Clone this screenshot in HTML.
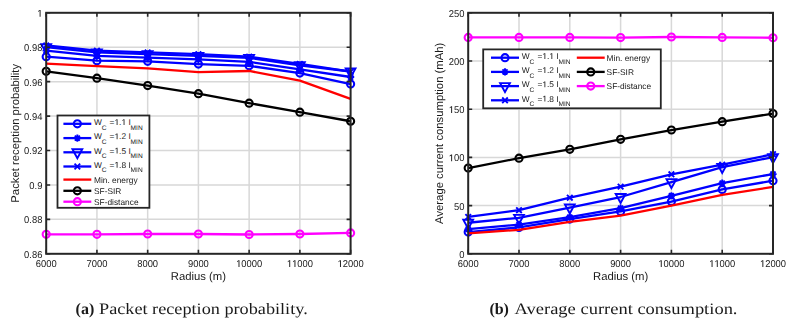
<!DOCTYPE html>
<html><head><meta charset="utf-8"><title>Figure</title>
<style>
html,body{margin:0;padding:0;background:#fff;}
body{width:794px;height:324px;overflow:hidden;position:relative;}
svg{position:absolute;left:0;top:0;filter:blur(0.35px);}
svg text{font-family:"Liberation Sans",sans-serif;fill:#1a1a1a;text-rendering:geometricPrecision;}
svg text.cap{font-family:"Liberation Serif",serif;fill:#1a1a1a;}
</style></head>
<body>
<svg width="794" height="324" viewBox="0 0 794 324">
<rect x="46.2" y="12.8" width="304.4" height="241" fill="#fff"/>
<path d="M96.93 12.8V253.8M147.67 12.8V253.8M198.4 12.8V253.8M249.13 12.8V253.8M299.87 12.8V253.8M46.2 219.37H350.6M46.2 184.94H350.6M46.2 150.51H350.6M46.2 116.09H350.6M46.2 81.66H350.6M46.2 47.23H350.6" stroke="#d8d8d8" stroke-width="1.5" fill="none"/>
<path d="M46.2 56.7L96.93 60.66L147.67 61.34L198.4 64.1L249.13 65.82L299.87 73.05L350.6 84.07" stroke="#0000ff" stroke-width="2.3" fill="none" stroke-linejoin="round"/>
<circle cx="46.2" cy="56.7" r="3.55" fill="none" stroke="#0000ff" stroke-width="2.1"/>
<circle cx="96.93" cy="60.66" r="3.55" fill="none" stroke="#0000ff" stroke-width="2.1"/>
<circle cx="147.67" cy="61.34" r="3.55" fill="none" stroke="#0000ff" stroke-width="2.1"/>
<circle cx="198.4" cy="64.1" r="3.55" fill="none" stroke="#0000ff" stroke-width="2.1"/>
<circle cx="249.13" cy="65.82" r="3.55" fill="none" stroke="#0000ff" stroke-width="2.1"/>
<circle cx="299.87" cy="73.05" r="3.55" fill="none" stroke="#0000ff" stroke-width="2.1"/>
<circle cx="350.6" cy="84.07" r="3.55" fill="none" stroke="#0000ff" stroke-width="2.1"/>
<path d="M46.2 50.67L96.93 55.84L147.67 57.56L198.4 59.28L249.13 61.86L299.87 69.44L350.6 77.01" stroke="#0000ff" stroke-width="2.3" fill="none" stroke-linejoin="round"/>
<path d="M42.6 50.67H49.8M46.2 47.07V54.27M43.65 48.13L48.75 53.22M43.65 53.22L48.75 48.13" stroke="#0000ff" stroke-width="1.9" fill="none"/>
<path d="M93.33 55.84H100.53M96.93 52.24V59.44M94.39 53.29L99.48 58.38M94.39 58.38L99.48 53.29" stroke="#0000ff" stroke-width="1.9" fill="none"/>
<path d="M144.07 57.56H151.27M147.67 53.96V61.16M145.12 55.01L150.21 60.1M145.12 60.1L150.21 55.01" stroke="#0000ff" stroke-width="1.9" fill="none"/>
<path d="M194.8 59.28H202M198.4 55.68V62.88M195.85 56.73L200.95 61.82M195.85 61.82L200.95 56.73" stroke="#0000ff" stroke-width="1.9" fill="none"/>
<path d="M245.53 61.86H252.73M249.13 58.26V65.46M246.59 59.32L251.68 64.41M246.59 64.41L251.68 59.32" stroke="#0000ff" stroke-width="1.9" fill="none"/>
<path d="M296.27 69.44H303.47M299.87 65.84V73.04M297.32 66.89L302.41 71.98M297.32 71.98L302.41 66.89" stroke="#0000ff" stroke-width="1.9" fill="none"/>
<path d="M347 77.01H354.2M350.6 73.41V80.61M348.05 74.46L353.15 79.55M348.05 79.55L353.15 74.46" stroke="#0000ff" stroke-width="1.9" fill="none"/>
<path d="M46.2 47.23L96.93 52.39L147.67 54.11L198.4 55.84L249.13 57.9L299.87 65.3L350.6 71.5" stroke="#0000ff" stroke-width="2.3" fill="none" stroke-linejoin="round"/>
<path d="M41.3 44.23L51.1 44.23L46.2 53.13Z" stroke="#0000ff" stroke-width="1.9" fill="none" stroke-linejoin="miter"/>
<path d="M92.03 49.39L101.83 49.39L96.93 58.29Z" stroke="#0000ff" stroke-width="1.9" fill="none" stroke-linejoin="miter"/>
<path d="M142.77 51.11L152.57 51.11L147.67 60.01Z" stroke="#0000ff" stroke-width="1.9" fill="none" stroke-linejoin="miter"/>
<path d="M193.5 52.84L203.3 52.84L198.4 61.74Z" stroke="#0000ff" stroke-width="1.9" fill="none" stroke-linejoin="miter"/>
<path d="M244.23 54.9L254.03 54.9L249.13 63.8Z" stroke="#0000ff" stroke-width="1.9" fill="none" stroke-linejoin="miter"/>
<path d="M294.97 62.3L304.77 62.3L299.87 71.2Z" stroke="#0000ff" stroke-width="1.9" fill="none" stroke-linejoin="miter"/>
<path d="M345.7 68.5L355.5 68.5L350.6 77.4Z" stroke="#0000ff" stroke-width="1.9" fill="none" stroke-linejoin="miter"/>
<path d="M46.2 45.51L96.93 50.67L147.67 52.39L198.4 54.11L249.13 56.7L299.87 63.93L350.6 71.67" stroke="#0000ff" stroke-width="2.3" fill="none" stroke-linejoin="round"/>
<path d="M43.4 42.71L49 48.31M43.4 48.31L49 42.71" stroke="#0000ff" stroke-width="1.9" fill="none"/>
<path d="M94.13 47.87L99.73 53.47M94.13 53.47L99.73 47.87" stroke="#0000ff" stroke-width="1.9" fill="none"/>
<path d="M144.87 49.59L150.47 55.19M144.87 55.19L150.47 49.59" stroke="#0000ff" stroke-width="1.9" fill="none"/>
<path d="M195.6 51.31L201.2 56.91M195.6 56.91L201.2 51.31" stroke="#0000ff" stroke-width="1.9" fill="none"/>
<path d="M246.33 53.9L251.93 59.5M246.33 59.5L251.93 53.9" stroke="#0000ff" stroke-width="1.9" fill="none"/>
<path d="M297.07 61.13L302.67 66.73M297.07 66.73L302.67 61.13" stroke="#0000ff" stroke-width="1.9" fill="none"/>
<path d="M347.8 68.87L353.4 74.47M347.8 74.47L353.4 68.87" stroke="#0000ff" stroke-width="1.9" fill="none"/>
<path d="M46.2 63.58L96.93 66.16L147.67 68.4L198.4 72.19L249.13 70.98L299.87 80.62L350.6 98.87" stroke="#ff0000" stroke-width="2.3" fill="none" stroke-linejoin="round"/>
<path d="M46.2 71.33L96.93 78.21L147.67 85.62L198.4 93.71L249.13 103.17L299.87 112.13L350.6 121.25" stroke="#000000" stroke-width="2.3" fill="none" stroke-linejoin="round"/>
<circle cx="46.2" cy="71.33" r="3.55" fill="none" stroke="#000000" stroke-width="2.1"/>
<circle cx="96.93" cy="78.21" r="3.55" fill="none" stroke="#000000" stroke-width="2.1"/>
<circle cx="147.67" cy="85.62" r="3.55" fill="none" stroke="#000000" stroke-width="2.1"/>
<circle cx="198.4" cy="93.71" r="3.55" fill="none" stroke="#000000" stroke-width="2.1"/>
<circle cx="249.13" cy="103.17" r="3.55" fill="none" stroke="#000000" stroke-width="2.1"/>
<circle cx="299.87" cy="112.13" r="3.55" fill="none" stroke="#000000" stroke-width="2.1"/>
<circle cx="350.6" cy="121.25" r="3.55" fill="none" stroke="#000000" stroke-width="2.1"/>
<path d="M46.2 234.35L96.93 234.35L147.67 234L198.4 234L249.13 234.52L299.87 234L350.6 232.97" stroke="#ff00ff" stroke-width="2.3" fill="none" stroke-linejoin="round"/>
<circle cx="46.2" cy="234.35" r="3.55" fill="none" stroke="#ff00ff" stroke-width="2.1"/>
<circle cx="96.93" cy="234.35" r="3.55" fill="none" stroke="#ff00ff" stroke-width="2.1"/>
<circle cx="147.67" cy="234" r="3.55" fill="none" stroke="#ff00ff" stroke-width="2.1"/>
<circle cx="198.4" cy="234" r="3.55" fill="none" stroke="#ff00ff" stroke-width="2.1"/>
<circle cx="249.13" cy="234.52" r="3.55" fill="none" stroke="#ff00ff" stroke-width="2.1"/>
<circle cx="299.87" cy="234" r="3.55" fill="none" stroke="#ff00ff" stroke-width="2.1"/>
<circle cx="350.6" cy="232.97" r="3.55" fill="none" stroke="#ff00ff" stroke-width="2.1"/>
<path d="M46.2 253.8v-4M46.2 12.8v4M96.93 253.8v-4M96.93 12.8v4M147.67 253.8v-4M147.67 12.8v4M198.4 253.8v-4M198.4 12.8v4M249.13 253.8v-4M249.13 12.8v4M299.87 253.8v-4M299.87 12.8v4M350.6 253.8v-4M350.6 12.8v4M46.2 253.8h4M350.6 253.8h-4M46.2 219.37h4M350.6 219.37h-4M46.2 184.94h4M350.6 184.94h-4M46.2 150.51h4M350.6 150.51h-4M46.2 116.09h4M350.6 116.09h-4M46.2 81.66h4M350.6 81.66h-4M46.2 47.23h4M350.6 47.23h-4M46.2 12.8h4M350.6 12.8h-4" stroke="#262626" stroke-width="1.6" fill="none"/>
<rect x="46.2" y="12.8" width="304.4" height="241" fill="none" stroke="#262626" stroke-width="2.0"/>
<g transform="translate(46.2 267) scale(0.95 1)"><text x="-11.01" y="0" font-size="9.9">6000</text></g>
<g transform="translate(96.93 267) scale(0.95 1)"><text x="-11.01" y="0" font-size="9.9">7000</text></g>
<g transform="translate(147.67 267) scale(0.95 1)"><text x="-11.01" y="0" font-size="9.9">8000</text></g>
<g transform="translate(198.4 267) scale(0.95 1)"><text x="-11.01" y="0" font-size="9.9">9000</text></g>
<g transform="translate(249.13 267) scale(0.95 1)"><path d="M535 0L535 1222L217 995L217 1185L555 1409L741 1409L741 0Z" fill="#1a1a1a" transform="matrix(0.00483 0 0 -0.00483 -13.76 0)"/><text x="-8.26" y="0" font-size="9.9">0000</text></g>
<g transform="translate(299.87 267) scale(0.95 1)"><path d="M535 0L535 1222L217 995L217 1185L555 1409L741 1409L741 0Z" fill="#1a1a1a" transform="matrix(0.00483 0 0 -0.00483 -13.76 0)"/><path d="M535 0L535 1222L217 995L217 1185L555 1409L741 1409L741 0Z" fill="#1a1a1a" transform="matrix(0.00483 0 0 -0.00483 -8.26 0)"/><text x="-2.75" y="0" font-size="9.9">000</text></g>
<g transform="translate(350.6 267) scale(0.95 1)"><path d="M535 0L535 1222L217 995L217 1185L555 1409L741 1409L741 0Z" fill="#1a1a1a" transform="matrix(0.00483 0 0 -0.00483 -13.76 0)"/><text x="-8.26" y="0" font-size="9.9">2000</text></g>
<g transform="translate(42.4 257.7) scale(0.95 1)"><text x="-19.27" y="0" font-size="9.9">0.86</text></g>
<g transform="translate(42.4 223.27) scale(0.95 1)"><text x="-19.27" y="0" font-size="9.9">0.88</text></g>
<g transform="translate(42.4 188.84) scale(0.95 1)"><text x="-13.76" y="0" font-size="9.9">0.9</text></g>
<g transform="translate(42.4 154.41) scale(0.95 1)"><text x="-19.27" y="0" font-size="9.9">0.92</text></g>
<g transform="translate(42.4 119.99) scale(0.95 1)"><text x="-19.27" y="0" font-size="9.9">0.94</text></g>
<g transform="translate(42.4 85.56) scale(0.95 1)"><text x="-19.27" y="0" font-size="9.9">0.96</text></g>
<g transform="translate(42.4 51.13) scale(0.95 1)"><text x="-19.27" y="0" font-size="9.9">0.98</text></g>
<g transform="translate(42.4 16.7) scale(0.95 1)"><path d="M535 0L535 1222L217 995L217 1185L555 1409L741 1409L741 0Z" fill="#1a1a1a" transform="matrix(0.00483 0 0 -0.00483 -5.51 0)"/></g>
<text x="198.4" y="279.8" text-anchor="middle" font-size="11.3">Radius (m)</text>
<text transform="translate(18.8 133.3) rotate(-90)" text-anchor="middle" font-size="11.3">Packet reception probability</text>
<rect x="468.2" y="12.8" width="304.8" height="241" fill="#fff"/>
<path d="M519 12.8V253.8M569.8 12.8V253.8M620.6 12.8V253.8M671.4 12.8V253.8M722.2 12.8V253.8M468.2 205.6H773M468.2 157.4H773M468.2 109.2H773M468.2 61H773" stroke="#d8d8d8" stroke-width="1.5" fill="none"/>
<path d="M468.2 232.11L519 227.39L569.8 219.1L620.6 211.38L671.4 201.55L722.2 189.4L773 180.73" stroke="#0000ff" stroke-width="2.3" fill="none" stroke-linejoin="round"/>
<circle cx="468.2" cy="232.11" r="3.55" fill="none" stroke="#0000ff" stroke-width="2.1"/>
<circle cx="519" cy="227.39" r="3.55" fill="none" stroke="#0000ff" stroke-width="2.1"/>
<circle cx="569.8" cy="219.1" r="3.55" fill="none" stroke="#0000ff" stroke-width="2.1"/>
<circle cx="620.6" cy="211.38" r="3.55" fill="none" stroke="#0000ff" stroke-width="2.1"/>
<circle cx="671.4" cy="201.55" r="3.55" fill="none" stroke="#0000ff" stroke-width="2.1"/>
<circle cx="722.2" cy="189.4" r="3.55" fill="none" stroke="#0000ff" stroke-width="2.1"/>
<circle cx="773" cy="180.73" r="3.55" fill="none" stroke="#0000ff" stroke-width="2.1"/>
<path d="M468.2 229.22L519 224.59L569.8 217.17L620.6 208.11L671.4 195.77L722.2 183.14L773 174.08" stroke="#0000ff" stroke-width="2.3" fill="none" stroke-linejoin="round"/>
<path d="M464.6 229.22H471.8M468.2 225.62V232.82M465.65 226.67L470.75 231.76M465.65 231.76L470.75 226.67" stroke="#0000ff" stroke-width="1.9" fill="none"/>
<path d="M515.4 224.59H522.6M519 220.99V228.19M516.45 222.05L521.55 227.14M516.45 227.14L521.55 222.05" stroke="#0000ff" stroke-width="1.9" fill="none"/>
<path d="M566.2 217.17H573.4M569.8 213.57V220.77M567.25 214.62L572.35 219.71M567.25 219.71L572.35 214.62" stroke="#0000ff" stroke-width="1.9" fill="none"/>
<path d="M617 208.11H624.2M620.6 204.51V211.71M618.05 205.56L623.15 210.65M618.05 210.65L623.15 205.56" stroke="#0000ff" stroke-width="1.9" fill="none"/>
<path d="M667.8 195.77H675M671.4 192.17V199.37M668.85 193.22L673.95 198.31M668.85 198.31L673.95 193.22" stroke="#0000ff" stroke-width="1.9" fill="none"/>
<path d="M718.6 183.14H725.8M722.2 179.54V186.74M719.65 180.59L724.75 185.68M719.65 185.68L724.75 180.59" stroke="#0000ff" stroke-width="1.9" fill="none"/>
<path d="M769.4 174.08H776.6M773 170.48V177.68M770.45 171.53L775.55 176.62M770.45 176.62L775.55 171.53" stroke="#0000ff" stroke-width="1.9" fill="none"/>
<path d="M468.2 222.76L519 217.84L569.8 207.53L620.6 197.02L671.4 182.17L722.2 167.04L773 157.21" stroke="#0000ff" stroke-width="2.3" fill="none" stroke-linejoin="round"/>
<path d="M463.3 219.76L473.1 219.76L468.2 228.66Z" stroke="#0000ff" stroke-width="1.9" fill="none" stroke-linejoin="miter"/>
<path d="M514.1 214.84L523.9 214.84L519 223.74Z" stroke="#0000ff" stroke-width="1.9" fill="none" stroke-linejoin="miter"/>
<path d="M564.9 204.53L574.7 204.53L569.8 213.43Z" stroke="#0000ff" stroke-width="1.9" fill="none" stroke-linejoin="miter"/>
<path d="M615.7 194.02L625.5 194.02L620.6 202.92Z" stroke="#0000ff" stroke-width="1.9" fill="none" stroke-linejoin="miter"/>
<path d="M666.5 179.17L676.3 179.17L671.4 188.07Z" stroke="#0000ff" stroke-width="1.9" fill="none" stroke-linejoin="miter"/>
<path d="M717.3 164.04L727.1 164.04L722.2 172.94Z" stroke="#0000ff" stroke-width="1.9" fill="none" stroke-linejoin="miter"/>
<path d="M768.1 154.21L777.9 154.21L773 163.11Z" stroke="#0000ff" stroke-width="1.9" fill="none" stroke-linejoin="miter"/>
<path d="M468.2 216.98L519 210.23L569.8 197.7L620.6 186.61L671.4 174.27L722.2 164.63L773 154.22" stroke="#0000ff" stroke-width="2.3" fill="none" stroke-linejoin="round"/>
<path d="M465.4 214.18L471 219.78M465.4 219.78L471 214.18" stroke="#0000ff" stroke-width="1.9" fill="none"/>
<path d="M516.2 207.43L521.8 213.03M516.2 213.03L521.8 207.43" stroke="#0000ff" stroke-width="1.9" fill="none"/>
<path d="M567 194.9L572.6 200.5M567 200.5L572.6 194.9" stroke="#0000ff" stroke-width="1.9" fill="none"/>
<path d="M617.8 183.81L623.4 189.41M617.8 189.41L623.4 183.81" stroke="#0000ff" stroke-width="1.9" fill="none"/>
<path d="M668.6 171.47L674.2 177.07M668.6 177.07L674.2 171.47" stroke="#0000ff" stroke-width="1.9" fill="none"/>
<path d="M719.4 161.83L725 167.43M719.4 167.43L725 161.83" stroke="#0000ff" stroke-width="1.9" fill="none"/>
<path d="M770.2 151.42L775.8 157.02M770.2 157.02L775.8 151.42" stroke="#0000ff" stroke-width="1.9" fill="none"/>
<path d="M468.2 233.46L519 229.8L569.8 221.89L620.6 215.53L671.4 205.7L722.2 194.8L773 186.9" stroke="#ff0000" stroke-width="2.3" fill="none" stroke-linejoin="round"/>
<path d="M468.2 168.1L519 158.17L569.8 149.3L620.6 139.28L671.4 130.02L722.2 121.64L773 113.54" stroke="#000000" stroke-width="2.3" fill="none" stroke-linejoin="round"/>
<circle cx="468.2" cy="168.1" r="3.55" fill="none" stroke="#000000" stroke-width="2.1"/>
<circle cx="519" cy="158.17" r="3.55" fill="none" stroke="#000000" stroke-width="2.1"/>
<circle cx="569.8" cy="149.3" r="3.55" fill="none" stroke="#000000" stroke-width="2.1"/>
<circle cx="620.6" cy="139.28" r="3.55" fill="none" stroke="#000000" stroke-width="2.1"/>
<circle cx="671.4" cy="130.02" r="3.55" fill="none" stroke="#000000" stroke-width="2.1"/>
<circle cx="722.2" cy="121.64" r="3.55" fill="none" stroke="#000000" stroke-width="2.1"/>
<circle cx="773" cy="113.54" r="3.55" fill="none" stroke="#000000" stroke-width="2.1"/>
<path d="M468.2 37.38L519 37.38L569.8 37.38L620.6 37.57L671.4 37L722.2 37.38L773 37.77" stroke="#ff00ff" stroke-width="2.3" fill="none" stroke-linejoin="round"/>
<circle cx="468.2" cy="37.38" r="3.55" fill="none" stroke="#ff00ff" stroke-width="2.1"/>
<circle cx="519" cy="37.38" r="3.55" fill="none" stroke="#ff00ff" stroke-width="2.1"/>
<circle cx="569.8" cy="37.38" r="3.55" fill="none" stroke="#ff00ff" stroke-width="2.1"/>
<circle cx="620.6" cy="37.57" r="3.55" fill="none" stroke="#ff00ff" stroke-width="2.1"/>
<circle cx="671.4" cy="37" r="3.55" fill="none" stroke="#ff00ff" stroke-width="2.1"/>
<circle cx="722.2" cy="37.38" r="3.55" fill="none" stroke="#ff00ff" stroke-width="2.1"/>
<circle cx="773" cy="37.77" r="3.55" fill="none" stroke="#ff00ff" stroke-width="2.1"/>
<path d="M468.2 253.8v-4M468.2 12.8v4M519 253.8v-4M519 12.8v4M569.8 253.8v-4M569.8 12.8v4M620.6 253.8v-4M620.6 12.8v4M671.4 253.8v-4M671.4 12.8v4M722.2 253.8v-4M722.2 12.8v4M773 253.8v-4M773 12.8v4M468.2 253.8h4M773 253.8h-4M468.2 205.6h4M773 205.6h-4M468.2 157.4h4M773 157.4h-4M468.2 109.2h4M773 109.2h-4M468.2 61h4M773 61h-4M468.2 12.8h4M773 12.8h-4" stroke="#262626" stroke-width="1.6" fill="none"/>
<rect x="468.2" y="12.8" width="304.8" height="241" fill="none" stroke="#262626" stroke-width="2.0"/>
<g transform="translate(468.2 267) scale(0.95 1)"><text x="-11.01" y="0" font-size="9.9">6000</text></g>
<g transform="translate(519 267) scale(0.95 1)"><text x="-11.01" y="0" font-size="9.9">7000</text></g>
<g transform="translate(569.8 267) scale(0.95 1)"><text x="-11.01" y="0" font-size="9.9">8000</text></g>
<g transform="translate(620.6 267) scale(0.95 1)"><text x="-11.01" y="0" font-size="9.9">9000</text></g>
<g transform="translate(671.4 267) scale(0.95 1)"><path d="M535 0L535 1222L217 995L217 1185L555 1409L741 1409L741 0Z" fill="#1a1a1a" transform="matrix(0.00483 0 0 -0.00483 -13.76 0)"/><text x="-8.26" y="0" font-size="9.9">0000</text></g>
<g transform="translate(722.2 267) scale(0.95 1)"><path d="M535 0L535 1222L217 995L217 1185L555 1409L741 1409L741 0Z" fill="#1a1a1a" transform="matrix(0.00483 0 0 -0.00483 -13.76 0)"/><path d="M535 0L535 1222L217 995L217 1185L555 1409L741 1409L741 0Z" fill="#1a1a1a" transform="matrix(0.00483 0 0 -0.00483 -8.26 0)"/><text x="-2.75" y="0" font-size="9.9">000</text></g>
<g transform="translate(773 267) scale(0.95 1)"><path d="M535 0L535 1222L217 995L217 1185L555 1409L741 1409L741 0Z" fill="#1a1a1a" transform="matrix(0.00483 0 0 -0.00483 -13.76 0)"/><text x="-8.26" y="0" font-size="9.9">2000</text></g>
<g transform="translate(464.4 257.7) scale(0.95 1)"><text x="-5.51" y="0" font-size="9.9">0</text></g>
<g transform="translate(464.4 209.5) scale(0.95 1)"><text x="-11.01" y="0" font-size="9.9">50</text></g>
<g transform="translate(464.4 161.3) scale(0.95 1)"><path d="M535 0L535 1222L217 995L217 1185L555 1409L741 1409L741 0Z" fill="#1a1a1a" transform="matrix(0.00483 0 0 -0.00483 -16.52 0)"/><text x="-11.01" y="0" font-size="9.9">00</text></g>
<g transform="translate(464.4 113.1) scale(0.95 1)"><path d="M535 0L535 1222L217 995L217 1185L555 1409L741 1409L741 0Z" fill="#1a1a1a" transform="matrix(0.00483 0 0 -0.00483 -16.52 0)"/><text x="-11.01" y="0" font-size="9.9">50</text></g>
<g transform="translate(464.4 64.9) scale(0.95 1)"><text x="-16.52" y="0" font-size="9.9">200</text></g>
<g transform="translate(464.4 16.7) scale(0.95 1)"><text x="-16.52" y="0" font-size="9.9">250</text></g>
<text x="620.6" y="279.8" text-anchor="middle" font-size="11.3">Radius (m)</text>
<text transform="translate(443 133.3) rotate(-90)" text-anchor="middle" font-size="11.3">Average current consumption (mAh)</text>
<rect x="57.5" y="115.5" width="91.9" height="92.3" fill="#fff" stroke="#262626" stroke-width="1.8"/>
<path d="M63.4 123.8H91.3" stroke="#0000ff" stroke-width="2.3"/>
<circle cx="77.35" cy="123.8" r="3.55" fill="none" stroke="#0000ff" stroke-width="2.1"/>
<text x="94" y="125" font-size="8.35">W</text><text x="101.7" y="129.7" font-size="6.6">C</text><text x="109.6" y="125" font-size="8.35">=</text><path d="M535 0L535 1222L217 995L217 1185L555 1409L741 1409L741 0Z" fill="#1a1a1a" transform="matrix(0.00408 0 0 -0.00408 114.48 125)"/><text x="119.12" y="125" font-size="8.35">.</text><path d="M535 0L535 1222L217 995L217 1185L555 1409L741 1409L741 0Z" fill="#1a1a1a" transform="matrix(0.00408 0 0 -0.00408 121.44 125)"/><text x="128.4" y="125" font-size="8.35">I</text><text x="130.6" y="129.7" font-size="6.6">MIN</text>
<path d="M63.4 138.1H91.3" stroke="#0000ff" stroke-width="2.3"/>
<path d="M73.75 138.1H80.95M77.35 134.5V141.7M74.8 135.55L79.9 140.65M74.8 140.65L79.9 135.55" stroke="#0000ff" stroke-width="1.9" fill="none"/>
<text x="94" y="139.3" font-size="8.35">W</text><text x="101.7" y="144" font-size="6.6">C</text><text x="109.6" y="139.3" font-size="8.35">=</text><path d="M535 0L535 1222L217 995L217 1185L555 1409L741 1409L741 0Z" fill="#1a1a1a" transform="matrix(0.00408 0 0 -0.00408 114.48 139.3)"/><text x="119.12" y="139.3" font-size="8.35">.2 I</text><text x="130.6" y="144" font-size="6.6">MIN</text>
<path d="M63.4 152.3H91.3" stroke="#0000ff" stroke-width="2.3"/>
<path d="M72.45 149.3L82.25 149.3L77.35 158.2Z" stroke="#0000ff" stroke-width="1.9" fill="none" stroke-linejoin="miter"/>
<text x="94" y="153.5" font-size="8.35">W</text><text x="101.7" y="158.2" font-size="6.6">C</text><text x="109.6" y="153.5" font-size="8.35">=</text><path d="M535 0L535 1222L217 995L217 1185L555 1409L741 1409L741 0Z" fill="#1a1a1a" transform="matrix(0.00408 0 0 -0.00408 114.48 153.5)"/><text x="119.12" y="153.5" font-size="8.35">.5 I</text><text x="130.6" y="158.2" font-size="6.6">MIN</text>
<path d="M63.4 166.5H91.3" stroke="#0000ff" stroke-width="2.3"/>
<path d="M74.55 163.7L80.15 169.3M74.55 169.3L80.15 163.7" stroke="#0000ff" stroke-width="1.9" fill="none"/>
<text x="94" y="167.7" font-size="8.35">W</text><text x="101.7" y="172.4" font-size="6.6">C</text><text x="109.6" y="167.7" font-size="8.35">=</text><path d="M535 0L535 1222L217 995L217 1185L555 1409L741 1409L741 0Z" fill="#1a1a1a" transform="matrix(0.00408 0 0 -0.00408 114.48 167.7)"/><text x="119.12" y="167.7" font-size="8.35">.8 I</text><text x="130.6" y="172.4" font-size="6.6">MIN</text>
<path d="M63.4 179.6H91.3" stroke="#ff0000" stroke-width="2.3"/>
<path d="M63.4 190.8H91.3" stroke="#000000" stroke-width="2.3"/>
<circle cx="77.35" cy="190.8" r="3.55" fill="none" stroke="#000000" stroke-width="2.1"/>
<path d="M63.4 201.7H91.3" stroke="#ff00ff" stroke-width="2.3"/>
<circle cx="77.35" cy="201.7" r="3.55" fill="none" stroke="#ff00ff" stroke-width="2.1"/>
<text x="94.0" y="182.7" font-size="8.35">Min. energy</text>
<text x="94.0" y="193.9" font-size="8.35">SF-SIR</text>
<text x="94.0" y="204.8" font-size="8.35">SF-distance</text>
<rect x="483.2" y="49.4" width="177.6" height="58.9" fill="#fff" stroke="#262626" stroke-width="1.8"/>
<path d="M491 57.7H519" stroke="#0000ff" stroke-width="2.3"/>
<circle cx="505" cy="57.7" r="3.55" fill="none" stroke="#0000ff" stroke-width="2.1"/>
<text x="521.8" y="58.9" font-size="8.35">W</text><text x="529.5" y="63.6" font-size="6.6">C</text><text x="537.4" y="58.9" font-size="8.35">=</text><path d="M535 0L535 1222L217 995L217 1185L555 1409L741 1409L741 0Z" fill="#1a1a1a" transform="matrix(0.00408 0 0 -0.00408 542.28 58.9)"/><text x="546.92" y="58.9" font-size="8.35">.</text><path d="M535 0L535 1222L217 995L217 1185L555 1409L741 1409L741 0Z" fill="#1a1a1a" transform="matrix(0.00408 0 0 -0.00408 549.24 58.9)"/><text x="556.2" y="58.9" font-size="8.35">I</text><text x="558.4" y="63.6" font-size="6.6">MIN</text>
<path d="M491 71.9H519" stroke="#0000ff" stroke-width="2.3"/>
<path d="M501.4 71.9H508.6M505 68.3V75.5M502.45 69.35L507.55 74.45M502.45 74.45L507.55 69.35" stroke="#0000ff" stroke-width="1.9" fill="none"/>
<text x="521.8" y="73.1" font-size="8.35">W</text><text x="529.5" y="77.8" font-size="6.6">C</text><text x="537.4" y="73.1" font-size="8.35">=</text><path d="M535 0L535 1222L217 995L217 1185L555 1409L741 1409L741 0Z" fill="#1a1a1a" transform="matrix(0.00408 0 0 -0.00408 542.28 73.1)"/><text x="546.92" y="73.1" font-size="8.35">.2 I</text><text x="558.4" y="77.8" font-size="6.6">MIN</text>
<path d="M491 86.1H519" stroke="#0000ff" stroke-width="2.3"/>
<path d="M500.1 83.1L509.9 83.1L505 92Z" stroke="#0000ff" stroke-width="1.9" fill="none" stroke-linejoin="miter"/>
<text x="521.8" y="87.3" font-size="8.35">W</text><text x="529.5" y="92" font-size="6.6">C</text><text x="537.4" y="87.3" font-size="8.35">=</text><path d="M535 0L535 1222L217 995L217 1185L555 1409L741 1409L741 0Z" fill="#1a1a1a" transform="matrix(0.00408 0 0 -0.00408 542.28 87.3)"/><text x="546.92" y="87.3" font-size="8.35">.5 I</text><text x="558.4" y="92" font-size="6.6">MIN</text>
<path d="M491 100.3H519" stroke="#0000ff" stroke-width="2.3"/>
<path d="M502.2 97.5L507.8 103.1M502.2 103.1L507.8 97.5" stroke="#0000ff" stroke-width="1.9" fill="none"/>
<text x="521.8" y="101.5" font-size="8.35">W</text><text x="529.5" y="106.2" font-size="6.6">C</text><text x="537.4" y="101.5" font-size="8.35">=</text><path d="M535 0L535 1222L217 995L217 1185L555 1409L741 1409L741 0Z" fill="#1a1a1a" transform="matrix(0.00408 0 0 -0.00408 542.28 101.5)"/><text x="546.92" y="101.5" font-size="8.35">.8 I</text><text x="558.4" y="106.2" font-size="6.6">MIN</text>
<path d="M576.8 57.7H604.7" stroke="#ff0000" stroke-width="2.3"/>
<path d="M576.8 71.9H604.7" stroke="#000000" stroke-width="2.3"/>
<circle cx="590.75" cy="71.9" r="3.55" fill="none" stroke="#000000" stroke-width="2.1"/>
<path d="M576.8 86.1H604.7" stroke="#ff00ff" stroke-width="2.3"/>
<circle cx="590.75" cy="86.1" r="3.55" fill="none" stroke="#ff00ff" stroke-width="2.1"/>
<text x="606.6" y="60.8" font-size="8.35">Min. energy</text>
<text x="606.6" y="75" font-size="8.35">SF-SIR</text>
<text x="606.6" y="89.2" font-size="8.35">SF-distance</text>
<text class="cap" x="75.6" y="313.7" font-size="16.0" font-weight="bold">(a)</text>
<text class="cap" x="99.0" y="313.7" font-size="16.0" textLength="208.7" lengthAdjust="spacingAndGlyphs">Packet reception probability.</text>
<text class="cap" x="489.4" y="313.7" font-size="16.0" font-weight="bold">(b)</text>
<text class="cap" x="514.6" y="313.7" font-size="16.0" textLength="222.9" lengthAdjust="spacingAndGlyphs">Average current consumption.</text>
</svg>
</body></html>
